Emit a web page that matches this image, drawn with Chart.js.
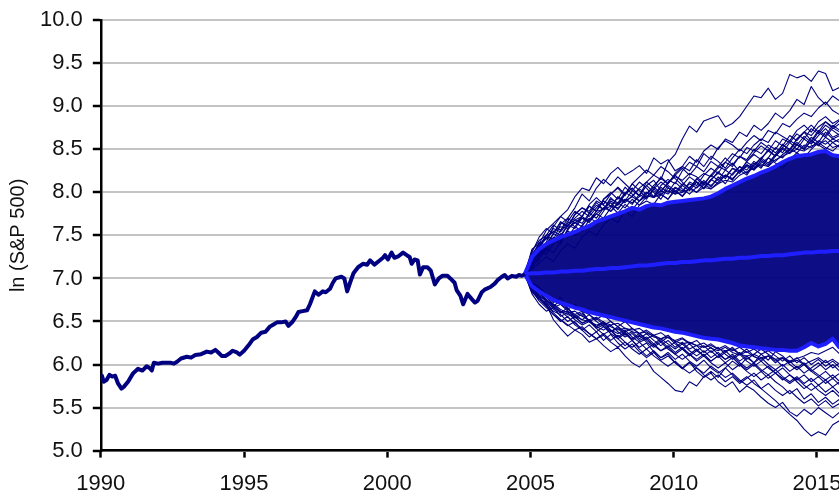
<!DOCTYPE html>
<html>
<head>
<meta charset="utf-8">
<title>ln (S&P 500)</title>
<script src="https://cdn.jsdelivr.net/npm/chart.js@4.4.1/dist/chart.umd.min.js"></script>
<style>
  html, body { margin: 0; padding: 0; background: #fff; overflow: hidden; }
  canvas { display: block; margin-top: -3px; }
</style>
</head>
<body>
<canvas id="chart" width="880" height="513"></canvas>
<script>
// Historical index level (natural log), 1990 to late 2004
const histYears = [
  1990.0, 1990.04, 1990.1, 1990.2, 1990.3, 1990.4, 1990.5, 1990.6, 1990.72, 1990.8, 1990.95,
  1991.13, 1991.3, 1991.45, 1991.6, 1991.7, 1991.78, 1991.85, 1992.0, 1992.15, 1992.3, 1992.45,
  1992.55, 1992.65, 1992.8, 1993.0, 1993.15, 1993.3, 1993.5, 1993.7, 1993.85, 1994.0, 1994.1,
  1994.22, 1994.35, 1994.5, 1994.6, 1994.75, 1994.85, 1995.0, 1995.15, 1995.3, 1995.45, 1995.6,
  1995.75, 1995.9, 1996.0, 1996.15, 1996.3, 1996.45, 1996.55, 1996.7, 1996.8, 1996.9, 1997.05,
  1997.2, 1997.3, 1997.47, 1997.6, 1997.75, 1997.85, 1998.0, 1998.1, 1998.2, 1998.4, 1998.5,
  1998.6, 1998.7, 1998.82, 1998.98, 1999.15, 1999.3, 1999.4, 1999.55, 1999.7, 1999.85, 1999.92,
  2000.02, 2000.15, 2000.25, 2000.4, 2000.55, 2000.68, 2000.78, 2000.85, 2000.95, 2001.06, 2001.14,
  2001.25, 2001.4, 2001.52, 2001.66, 2001.8, 2001.92, 2002.1, 2002.2, 2002.35, 2002.42, 2002.55,
  2002.65, 2002.8, 2002.95, 2003.06, 2003.15, 2003.3, 2003.4, 2003.6, 2003.75, 2003.85, 2004.0,
  2004.1, 2004.2, 2004.35, 2004.5, 2004.6, 2004.7, 2004.8
];
const histValues = [
  5.81, 5.87, 5.80, 5.82, 5.88, 5.86, 5.87, 5.78, 5.72, 5.74, 5.80,
  5.90, 5.95, 5.93, 5.98, 5.96, 5.93, 6.02, 6.01, 6.02, 6.02, 6.02,
  6.01, 6.03, 6.07, 6.09, 6.08, 6.11, 6.12, 6.15, 6.14, 6.17, 6.14,
  6.10, 6.10, 6.13, 6.16, 6.14, 6.115, 6.16, 6.22, 6.29, 6.32, 6.37,
  6.38, 6.44, 6.46, 6.49, 6.49, 6.50, 6.45, 6.50, 6.55, 6.61, 6.62,
  6.63, 6.70, 6.85, 6.81, 6.85, 6.84, 6.88, 6.95, 7.00, 7.02, 7.00,
  6.85, 6.95, 7.06, 7.13, 7.17, 7.16, 7.21, 7.16, 7.20, 7.24, 7.27,
  7.22, 7.30, 7.24, 7.26, 7.30, 7.27, 7.25, 7.17, 7.22, 7.21, 7.045,
  7.13, 7.13, 7.09, 6.93, 7.00, 7.03, 7.03, 7.00, 6.95, 6.865, 6.80,
  6.70, 6.82, 6.76, 6.72, 6.74, 6.84, 6.87, 6.90, 6.94, 6.98, 7.02,
  7.04, 7.00, 7.03, 7.02, 7.04, 7.03, 7.05
];

// Quarterly dates of the simulated paths
const simYears = [
  2004.8, 2005.05, 2005.3, 2005.55, 2005.8, 2006.05, 2006.3, 2006.55, 2006.8, 2007.05,
  2007.3, 2007.55, 2007.8, 2008.05, 2008.3, 2008.55, 2008.8, 2009.05, 2009.3, 2009.55,
  2009.8, 2010.05, 2010.3, 2010.55, 2010.8, 2011.05, 2011.3, 2011.55, 2011.8, 2012.05,
  2012.3, 2012.55, 2012.8, 2013.05, 2013.3, 2013.55, 2013.8, 2014.05, 2014.3, 2014.55,
  2014.8, 2015.05, 2015.3, 2015.55, 2015.8
];

// Mean of the simulated paths and the upper / lower percentile bands
const meanPath = [
  7.05, 7.06, 7.06, 7.07, 7.07, 7.08, 7.08, 7.09, 7.09, 7.10,
  7.11, 7.11, 7.12, 7.12, 7.13, 7.14, 7.15, 7.15, 7.16, 7.17,
  7.18, 7.18, 7.19, 7.19, 7.20, 7.21, 7.21, 7.22, 7.23, 7.23,
  7.24, 7.24, 7.25, 7.26, 7.26, 7.27, 7.27, 7.28, 7.29, 7.30,
  7.30, 7.31, 7.31, 7.32, 7.32
];
const upperBand = [
  7.05, 7.25, 7.34, 7.40, 7.44, 7.48, 7.51, 7.54, 7.58, 7.61,
  7.66, 7.69, 7.72, 7.75, 7.78, 7.82, 7.80, 7.84, 7.86, 7.85,
  7.88, 7.89, 7.90, 7.91, 7.92, 7.93, 7.95, 7.99, 8.04, 8.08,
  8.12, 8.16, 8.19, 8.23, 8.26, 8.30, 8.35, 8.39, 8.42, 8.43,
  8.44, 8.47, 8.48, 8.43, 8.42
];
const lowerBand = [
  7.05, 6.91, 6.85, 6.80, 6.75, 6.72, 6.69, 6.66, 6.64, 6.61,
  6.59, 6.57, 6.55, 6.53, 6.51, 6.49, 6.47, 6.45, 6.43, 6.42,
  6.40, 6.38, 6.37, 6.35, 6.33, 6.31, 6.30, 6.29, 6.27, 6.25,
  6.22, 6.21, 6.20, 6.19, 6.18, 6.17, 6.17, 6.16, 6.16, 6.20,
  6.25, 6.21, 6.24, 6.30, 6.19
];

// Individual simulated paths that stand out from the dense core
const simPaths = [
  [7.05, 7.15, 7.22, 7.35, 7.30, 7.42, 7.55, 7.50, 7.62, 7.70, 7.66, 7.78, 7.90, 7.85, 7.98, 8.05, 7.96, 8.12, 8.20, 8.15, 8.35, 8.44, 8.62, 8.77, 8.70, 8.83, 8.86, 8.89, 8.76, 8.80, 8.88, 9.00, 9.12, 9.10, 9.21, 9.08, 9.15, 9.37, 9.33, 9.36, 9.29, 9.41, 9.38, 9.18, 9.22],
  [7.05, 7.18, 7.30, 7.42, 7.60, 7.72, 7.80, 7.95, 8.05, 8.02, 8.17, 8.10, 8.22, 8.29, 8.20, 8.25, 8.31, 8.22, 8.40, 8.33, 8.38, 8.25, 8.30, 8.42, 8.35, 8.48, 8.55, 8.50, 8.62, 8.58, 8.70, 8.65, 8.78, 8.72, 8.80, 8.92, 8.86, 8.95, 9.08, 9.02, 9.23, 9.10, 9.02, 9.12, 9.06],
  [7.05, 7.20, 7.38, 7.50, 7.45, 7.63, 7.70, 7.82, 7.98, 7.90, 8.05, 8.15, 8.08, 8.18, 8.10, 8.02, 8.12, 8.05, 7.95, 8.08, 8.15, 8.10, 8.25, 8.35, 8.30, 8.45, 8.38, 8.52, 8.60, 8.55, 8.48, 8.58, 8.66, 8.60, 8.72, 8.68, 8.80, 8.76, 8.85, 8.92, 8.88, 8.98, 9.05, 8.95, 8.90],
  [7.05, 7.12, 7.25, 7.32, 7.45, 7.40, 7.58, 7.65, 7.60, 7.75, 7.85, 7.80, 7.92, 7.88, 8.00, 7.95, 8.05, 8.12, 8.05, 8.18, 8.10, 8.22, 8.30, 8.25, 8.38, 8.30, 8.42, 8.36, 8.28, 8.40, 8.50, 8.45, 8.55, 8.62, 8.58, 8.70, 8.65, 8.60, 8.72, 8.78, 8.70, 8.82, 8.88, 8.80, 8.85],
  [7.05, 7.22, 7.30, 7.28, 7.40, 7.52, 7.48, 7.60, 7.55, 7.68, 7.75, 7.70, 7.82, 7.95, 7.90, 8.02, 7.96, 8.08, 8.00, 7.92, 8.05, 8.00, 8.10, 8.05, 8.15, 8.22, 8.18, 8.28, 8.35, 8.30, 8.42, 8.38, 8.50, 8.45, 8.55, 8.50, 8.62, 8.58, 8.68, 8.62, 8.74, 8.68, 8.78, 8.72, 8.66],
  [7.05, 7.15, 7.28, 7.40, 7.52, 7.65, 7.60, 7.75, 7.82, 7.78, 7.90, 7.85, 7.78, 7.88, 7.82, 7.92, 7.85, 7.95, 8.02, 7.96, 8.08, 8.02, 7.95, 8.05, 8.12, 8.05, 8.15, 8.22, 8.18, 8.28, 8.25, 8.35, 8.30, 8.40, 8.48, 8.42, 8.52, 8.60, 8.55, 8.65, 8.58, 8.70, 8.64, 8.75, 8.70],
  [7.05, 7.10, 7.18, 7.25, 7.20, 7.32, 7.40, 7.35, 7.48, 7.55, 7.50, 7.62, 7.70, 7.65, 7.78, 7.72, 7.85, 7.90, 7.86, 7.98, 7.92, 8.05, 8.00, 8.12, 8.08, 8.20, 8.28, 8.22, 8.35, 8.45, 8.40, 8.52, 8.48, 8.58, 8.52, 8.46, 8.55, 8.50, 8.62, 8.70, 8.66, 8.76, 8.82, 8.74, 8.80],
  [7.05, 7.18, 7.26, 7.36, 7.48, 7.44, 7.56, 7.68, 7.72, 7.66, 7.78, 7.92, 7.98, 8.05, 7.96, 8.10, 8.18, 8.26, 8.20, 8.30, 8.24, 8.16, 8.08, 8.18, 8.12, 8.05, 8.15, 8.10, 8.20, 8.15, 8.25, 8.32, 8.28, 8.36, 8.30, 8.42, 8.50, 8.45, 8.55, 8.50, 8.60, 8.55, 8.50, 8.58, 8.52],
  [7.05, 7.28, 7.40, 7.46, 7.55, 7.50, 7.62, 7.58, 7.70, 7.65, 7.75, 7.82, 7.78, 7.86, 7.92, 7.88, 7.95, 8.00, 7.94, 8.02, 7.98, 8.06, 8.02, 8.10, 8.05, 8.12, 8.08, 8.15, 8.20, 8.16, 8.24, 8.30, 8.26, 8.34, 8.40, 8.36, 8.44, 8.50, 8.46, 8.55, 8.52, 8.60, 8.56, 8.62, 8.58],
  [7.05, 7.20, 7.35, 7.48, 7.42, 7.56, 7.66, 7.60, 7.72, 7.84, 7.78, 7.90, 7.84, 7.76, 7.86, 7.80, 7.90, 7.98, 8.06, 8.00, 8.12, 8.18, 8.14, 8.22, 8.18, 8.10, 8.20, 8.30, 8.26, 8.20, 8.30, 8.26, 8.36, 8.30, 8.40, 8.34, 8.28, 8.38, 8.46, 8.40, 8.50, 8.58, 8.52, 8.48, 8.56],
  [7.05, 7.32, 7.44, 7.50, 7.54, 7.60, 7.58, 7.65, 7.70, 7.68, 7.78, 7.80, 7.84, 7.82, 7.90, 7.95, 7.90, 7.96, 7.94, 7.98, 8.02, 7.98, 8.00, 8.04, 8.00, 8.06, 8.04, 8.10, 8.14, 8.12, 8.20, 8.24, 8.28, 8.32, 8.30, 8.38, 8.42, 8.46, 8.50, 8.48, 8.54, 8.56, 8.60, 8.52, 8.55],
  [7.05, 7.30, 7.48, 7.58, 7.52, 7.66, 7.60, 7.74, 7.82, 7.76, 7.88, 7.80, 7.94, 7.86, 7.98, 8.05, 7.96, 8.08, 8.14, 8.02, 8.10, 8.20, 8.12, 8.04, 8.16, 8.08, 8.20, 8.14, 8.26, 8.34, 8.24, 8.36, 8.44, 8.38, 8.50, 8.42, 8.56, 8.48, 8.62, 8.70, 8.60, 8.72, 8.66, 8.78, 8.72],
  [7.05, 7.26, 7.36, 7.50, 7.62, 7.56, 7.70, 7.64, 7.72, 7.84, 7.78, 7.92, 8.00, 7.92, 8.06, 7.98, 7.90, 8.00, 7.94, 8.06, 8.00, 8.12, 8.04, 7.98, 8.06, 8.14, 8.06, 8.18, 8.10, 8.22, 8.30, 8.22, 8.34, 8.28, 8.40, 8.52, 8.46, 8.58, 8.50, 8.62, 8.56, 8.66, 8.74, 8.64, 8.68],
  [7.05, 7.22, 7.42, 7.38, 7.52, 7.48, 7.62, 7.68, 7.64, 7.76, 7.70, 7.82, 7.88, 7.80, 7.92, 7.86, 7.98, 7.92, 8.04, 7.98, 7.92, 8.02, 7.96, 8.06, 8.00, 8.10, 8.04, 8.12, 8.20, 8.14, 8.26, 8.20, 8.32, 8.40, 8.34, 8.44, 8.52, 8.46, 8.56, 8.50, 8.60, 8.54, 8.64, 8.58, 8.62],
  [7.05, 7.34, 7.40, 7.56, 7.64, 7.72, 7.66, 7.78, 7.72, 7.86, 7.94, 7.86, 7.98, 8.06, 7.98, 8.10, 8.02, 7.94, 8.04, 8.12, 8.06, 7.98, 8.08, 8.02, 8.12, 8.04, 8.14, 8.24, 8.16, 8.28, 8.22, 8.32, 8.26, 8.38, 8.32, 8.44, 8.40, 8.50, 8.58, 8.52, 8.64, 8.58, 8.70, 8.62, 8.66],
  [7.05, 7.28, 7.38, 7.46, 7.58, 7.54, 7.64, 7.70, 7.78, 7.72, 7.82, 7.90, 7.84, 7.94, 7.88, 7.96, 8.04, 7.98, 8.08, 8.16, 8.10, 8.20, 8.28, 8.20, 8.30, 8.24, 8.36, 8.30, 8.40, 8.32, 8.42, 8.36, 8.46, 8.54, 8.48, 8.60, 8.54, 8.66, 8.60, 8.70, 8.78, 8.70, 8.82, 8.76, 8.84],
  [7.05, 6.92, 6.85, 6.72, 6.60, 6.52, 6.45, 6.50, 6.40, 6.32, 6.38, 6.28, 6.35, 6.25, 6.18, 6.24, 6.15, 6.08, 6.14, 6.05, 6.10, 6.02, 5.95, 6.02, 5.96, 5.90, 5.98, 5.92, 5.85, 5.90, 5.82, 5.76, 5.82, 5.72, 5.65, 5.58, 5.50, 5.42, 5.35, 5.25, 5.17, 5.22, 5.18, 5.30, 5.35],
  [7.05, 6.88, 6.78, 6.70, 6.52, 6.42, 6.33, 6.40, 6.35, 6.26, 6.30, 6.22, 6.15, 6.20, 6.10, 6.02, 5.97, 6.05, 5.92, 5.85, 5.78, 5.70, 5.68, 5.80, 5.75, 5.86, 5.92, 5.85, 5.96, 6.04, 5.98, 6.08, 6.02, 6.12, 6.05, 6.15, 6.10, 6.02, 6.08, 6.00, 5.92, 5.98, 6.05, 5.96, 6.02],
  [7.05, 6.95, 6.88, 6.80, 6.72, 6.78, 6.65, 6.58, 6.62, 6.50, 6.44, 6.50, 6.40, 6.32, 6.38, 6.28, 6.20, 6.25, 6.15, 6.08, 6.12, 6.02, 5.96, 6.03, 5.92, 5.85, 5.90, 5.80, 5.74, 5.80, 5.68, 5.75, 5.70, 5.62, 5.55, 5.50, 5.56, 5.45, 5.40, 5.48, 5.42, 5.50, 5.44, 5.38, 5.45],
  [7.05, 6.90, 6.82, 6.75, 6.68, 6.60, 6.66, 6.55, 6.48, 6.52, 6.42, 6.35, 6.40, 6.30, 6.22, 6.28, 6.18, 6.10, 6.16, 6.08, 6.14, 6.06, 6.12, 6.04, 5.98, 6.05, 5.96, 5.90, 5.96, 5.88, 5.80, 5.86, 5.78, 5.72, 5.78, 5.70, 5.64, 5.70, 5.62, 5.55, 5.60, 5.52, 5.58, 5.50, 5.55],
  [7.05, 6.94, 6.86, 6.78, 6.70, 6.62, 6.55, 6.48, 6.42, 6.36, 6.30, 6.36, 6.28, 6.34, 6.26, 6.20, 6.26, 6.18, 6.24, 6.16, 6.22, 6.14, 6.20, 6.12, 6.06, 6.12, 6.04, 6.10, 6.02, 6.08, 6.00, 5.94, 6.00, 5.92, 5.98, 5.90, 5.84, 5.78, 5.84, 5.76, 5.70, 5.76, 5.68, 5.74, 5.66],
  [7.05, 6.92, 6.84, 6.76, 6.68, 6.74, 6.64, 6.58, 6.52, 6.58, 6.50, 6.44, 6.38, 6.44, 6.36, 6.30, 6.36, 6.28, 6.22, 6.28, 6.20, 6.26, 6.18, 6.24, 6.16, 6.10, 6.16, 6.08, 6.14, 6.20, 6.12, 6.18, 6.10, 6.04, 6.10, 6.02, 6.08, 6.00, 5.94, 6.00, 5.92, 5.86, 5.92, 5.84, 5.90],
  [7.05, 6.86, 6.80, 6.74, 6.70, 6.64, 6.60, 6.62, 6.56, 6.52, 6.55, 6.49, 6.46, 6.48, 6.42, 6.40, 6.42, 6.36, 6.34, 6.37, 6.31, 6.28, 6.31, 6.25, 6.22, 6.25, 6.19, 6.16, 6.20, 6.14, 6.11, 6.15, 6.09, 6.06, 6.10, 6.04, 6.07, 6.02, 6.05, 6.00, 6.04, 6.08, 6.02, 6.06, 6.00],
  [7.05, 6.96, 6.90, 6.82, 6.76, 6.70, 6.64, 6.70, 6.62, 6.58, 6.52, 6.58, 6.50, 6.44, 6.50, 6.42, 6.36, 6.30, 6.34, 6.26, 6.32, 6.24, 6.18, 6.12, 6.18, 6.10, 6.04, 6.10, 6.16, 6.08, 6.14, 6.06, 6.12, 6.18, 6.12, 6.06, 5.98, 6.04, 5.96, 6.02, 5.94, 5.88, 5.82, 5.88, 5.80],
  [7.05, 6.90, 6.80, 6.68, 6.58, 6.50, 6.56, 6.46, 6.40, 6.46, 6.38, 6.44, 6.36, 6.30, 6.36, 6.28, 6.34, 6.26, 6.20, 6.26, 6.18, 6.12, 6.18, 6.10, 6.16, 6.22, 6.14, 6.20, 6.12, 6.06, 6.12, 6.04, 5.98, 6.04, 5.96, 5.90, 5.96, 5.88, 5.82, 5.88, 5.80, 5.86, 5.78, 5.84, 5.76],
  [7.05, 6.84, 6.76, 6.72, 6.66, 6.62, 6.58, 6.56, 6.52, 6.50, 6.46, 6.48, 6.44, 6.40, 6.42, 6.38, 6.36, 6.38, 6.32, 6.30, 6.32, 6.27, 6.24, 6.26, 6.22, 6.20, 6.22, 6.18, 6.16, 6.18, 6.12, 6.10, 6.12, 6.08, 6.10, 6.06, 6.08, 6.04, 6.07, 6.10, 6.14, 6.12, 6.16, 6.20, 6.12],
  [7.05, 6.82, 6.70, 6.62, 6.66, 6.56, 6.60, 6.52, 6.46, 6.50, 6.42, 6.46, 6.38, 6.42, 6.34, 6.38, 6.30, 6.36, 6.28, 6.22, 6.28, 6.20, 6.26, 6.18, 6.22, 6.14, 6.20, 6.12, 6.06, 6.12, 6.04, 6.10, 6.02, 6.08, 6.00, 5.94, 6.00, 5.92, 5.98, 5.90, 5.96, 6.02, 5.94, 6.00, 5.92],
  [7.05, 6.88, 6.76, 6.68, 6.62, 6.58, 6.50, 6.56, 6.48, 6.52, 6.44, 6.40, 6.46, 6.38, 6.32, 6.36, 6.28, 6.32, 6.24, 6.30, 6.24, 6.18, 6.24, 6.16, 6.10, 6.16, 6.08, 6.14, 6.06, 6.10, 6.02, 5.96, 6.02, 5.94, 5.88, 5.94, 5.86, 5.80, 5.86, 5.78, 5.84, 5.76, 5.82, 5.74, 5.80],
  [7.05, 6.84, 6.78, 6.70, 6.64, 6.60, 6.62, 6.54, 6.58, 6.50, 6.54, 6.46, 6.50, 6.44, 6.38, 6.42, 6.36, 6.40, 6.34, 6.30, 6.34, 6.26, 6.30, 6.24, 6.28, 6.20, 6.24, 6.18, 6.22, 6.16, 6.20, 6.14, 6.18, 6.12, 6.16, 6.10, 6.04, 6.10, 6.02, 6.08, 6.00, 6.06, 5.98, 6.04, 5.96],
  [7.05, 6.90, 6.80, 6.74, 6.66, 6.70, 6.62, 6.56, 6.60, 6.50, 6.44, 6.48, 6.40, 6.36, 6.40, 6.32, 6.26, 6.30, 6.22, 6.16, 6.20, 6.12, 6.06, 6.12, 6.04, 6.10, 6.02, 5.96, 6.02, 5.94, 6.00, 5.92, 5.86, 5.92, 5.84, 5.90, 5.82, 5.88, 5.80, 5.72, 5.78, 5.70, 5.64, 5.70, 5.62],
  [7.05, 6.86, 6.74, 6.66, 6.58, 6.52, 6.46, 6.40, 6.44, 6.36, 6.30, 6.34, 6.26, 6.20, 6.26, 6.18, 6.12, 6.18, 6.10, 6.04, 5.98, 6.04, 5.96, 5.90, 5.96, 5.88, 5.82, 5.88, 5.80, 5.86, 5.78, 5.84, 5.90, 5.82, 5.88, 5.80, 5.74, 5.66, 5.72, 5.60, 5.66, 5.56, 5.62, 5.54, 5.60]
];

// Axis ticks
const xTickYears = [1990, 1995, 2000, 2005, 2010, 2015];
const yTickValues = [5.0, 5.5, 6.0, 6.5, 7.0, 7.5, 8.0, 8.5, 9.0, 9.5, 10.0];

const NAVY = '#000080';
const BRIGHT = '#1e1eff';
const FONT = "'Liberation Sans', Arial, sans-serif";

const toPoints = (xs, ys) => xs.map((x, i) => ({ x: x, y: ys[i] }));

const datasets = [];

// Historical series (drawn on top)
datasets.push({
  label: 'S&P 500',
  data: toPoints(histYears, histValues),
  borderColor: NAVY,
  borderWidth: 4,
  pointRadius: 0,
  order: 0
});

// Mean path
datasets.push({
  label: 'Mean',
  data: toPoints(simYears, meanPath),
  borderColor: BRIGHT,
  borderWidth: 4,
  pointRadius: 0,
  order: 1
});

// Upper band, shaded down to the lower band (dense region of paths)
const lowerIndex = 3;
datasets.push({
  label: 'Upper band',
  data: toPoints(simYears, upperBand),
  borderColor: BRIGHT,
  borderWidth: 4,
  pointRadius: 0,
  backgroundColor: 'rgba(0, 0, 128, 0.95)',
  fill: { target: lowerIndex },
  order: 1
});
datasets.push({
  label: 'Lower band',
  data: toPoints(simYears, lowerBand),
  borderColor: BRIGHT,
  borderWidth: 4,
  pointRadius: 0,
  order: 1
});

simPaths.forEach((p, i) => {
  datasets.push({
    label: 'Path ' + (i + 1),
    data: toPoints(simYears, p),
    borderColor: NAVY,
    borderWidth: 1.1,
    pointRadius: 0,
    order: 5
  });
});

new Chart(document.getElementById('chart'), {
  type: 'line',
  data: { datasets: datasets },
  options: {
    responsive: false,
    animation: false,
    devicePixelRatio: 1,
    layout: { padding: { top: 16, left: 0, right: 0, bottom: 0 } },
    plugins: {
      legend: { display: false },
      tooltip: { enabled: false },
      filler: { drawTime: 'beforeDatasetsDraw' }
    },
    elements: { line: { tension: 0, borderJoinStyle: 'round' } },
    scales: {
      x: {
        type: 'linear',
        min: 1990,
        max: 2017.2,
        afterBuildTicks: (scale) => { scale.ticks = xTickYears.map(v => ({ value: v })); },
        ticks: {
          color: '#111',
          font: { family: FONT, size: 22 },
          padding: 13,
          maxRotation: 0,
          callback: (v) => String(v)
        },
        grid: {
          display: true,
          drawOnChartArea: false,
          drawTicks: true,
          tickLength: 7,
          tickColor: '#000',
          tickWidth: 2.5
        },
        border: { display: true, color: '#000', width: 2.5 }
      },
      y: {
        min: 5,
        max: 10,
        afterBuildTicks: (scale) => { scale.ticks = yTickValues.map(v => ({ value: v })); },
        ticks: {
          color: '#111',
          font: { family: FONT, size: 22 },
          padding: 10,
          callback: (v) => Number(v).toFixed(1)
        },
        grid: {
          color: '#c4c4c4',
          lineWidth: 2,
          tickLength: 8,
          tickColor: '#000',
          tickWidth: 2.5
        },
        border: { display: true, color: '#000', width: 2.5 },
        title: {
          display: true,
          text: 'ln (S&P 500)',
          color: '#111',
          font: { family: FONT, size: 20 },
          padding: { top: 6, bottom: 0 }
        }
      }
    }
  }
});
</script>
</body>
</html>
